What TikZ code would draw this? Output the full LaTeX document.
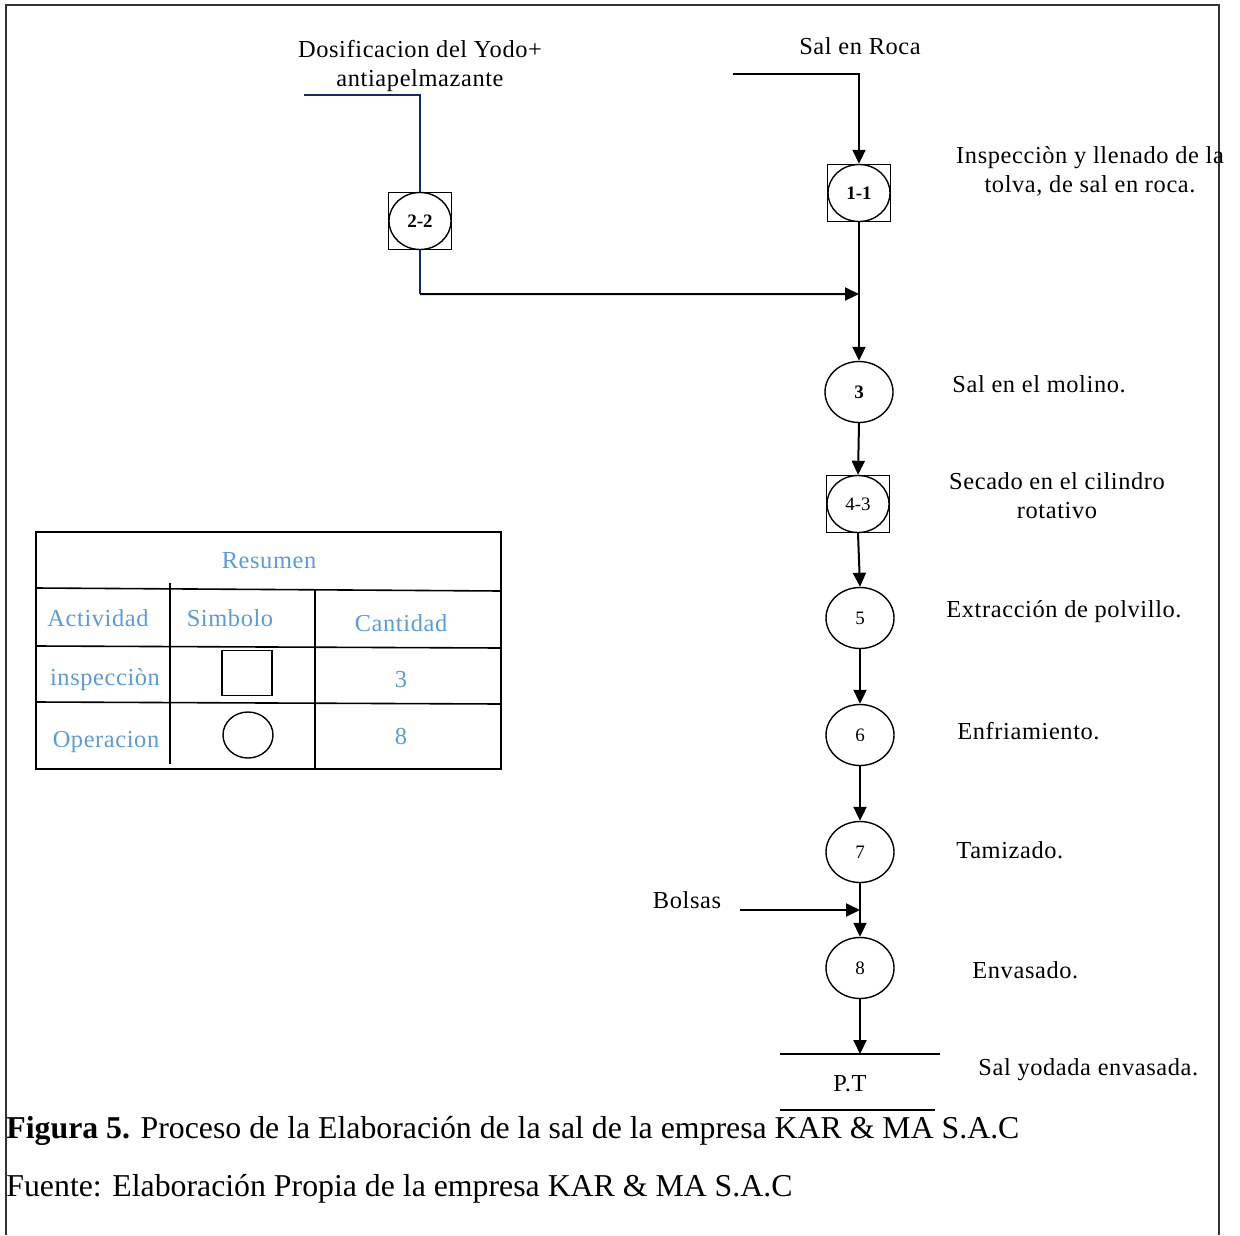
\documentclass[tikz,border=0pt]{standalone}
\usepackage{fontspec}
\setmainfont{Liberation Serif}
\newfontfamily\spacedserif[LetterSpace=2.5]{Liberation Serif}
\usetikzlibrary{arrows.meta,shapes.geometric}
\definecolor{tblue}{RGB}{91,155,213}
\definecolor{navyline}{RGB}{20,40,110}
\begin{document}
\begin{tikzpicture}[x=0.5pt,y=-0.5pt,
  lw/.style={line width=1pt},
  flow/.style={lw,-{Triangle[length=7pt,width=6.5pt]}},
  opnode/.style={draw,ellipse,line width=0.7pt,minimum width=34pt,minimum height=30.5pt,inner sep=0pt,font=\fontsize{9.5}{11}\selectfont},
  inspbox/.style={draw,rectangle,line width=0.7pt,minimum width=31.5pt,minimum height=28.5pt,inner sep=0pt},
  inspop/.style={opnode,minimum width=31pt,minimum height=28.5pt},
  boldlbl/.style={font=\fontsize{9.5}{11}\selectfont\bfseries},
  txt/.style={font=\spacedserif\fontsize{12.2}{14.5}\selectfont,inner sep=0pt,align=center},
  tbl/.style={txt,text=tblue},
  caption/.style={font=\fontsize{15.9}{18}\selectfont,inner sep=0pt,anchor=west}]
\useasboundingbox (0,0) rectangle (1240,1235);
% outer frame
\draw[line width=1pt,black!80] (6,1235) -- (6,5) -- (1219,5) -- (1219,1235);

% inputs
\node[txt] (tYodo) at (420,66) {Dosificacion del Yodo+\\antiapelmazante};
\node[txt] (tRoca) at (860,46) {Sal en Roca};
\coordinate (inYodo) at (304,95);
\coordinate (inRoca) at (733,74);

% inspection + operation 1-1 and 2-2
\node[inspbox] (s11) at (859,193) {};
\node[inspop,boldlbl] (n11) at (859,193) {1-1};
\node[inspbox] (s22) at (420,221) {};
\node[inspop,boldlbl] (n22) at (420,221) {2-2};

% main sequence
\node[opnode,boldlbl] (n3) at (859,392) {3};
\node[inspbox] (s43) at (858,504) {};
\node[inspop] (n43) at (858,504) {4-3};
\node[opnode] (n5) at (860,618) {5};
\node[opnode] (n6) at (860,735) {6};
\node[opnode] (n7) at (860,852) {7};
\node[opnode] (n8) at (860,968) {8};

\coordinate (j1) at (859,294);
\coordinate (j2) at (860,910);
\coordinate (inBolsas) at (740,910);
\node[txt] (tBolsas) at (687,900) {Bolsas};

% finished product
\coordinate (ptTop) at (860,1054);
\coordinate (ptL) at (780,1054);
\coordinate (ptR) at (940,1054);
\coordinate (ptBL) at (780,1110);
\coordinate (ptBR) at (935,1110);
\node[txt] (tPT) at (850,1084) {P.T};

% connectors
\draw[flow] (inRoca) -| (s11.north);
\draw[lw,navyline] (inYodo) -| (s22.north);
\draw[lw,navyline] (s22.south) -- ++(0,44) coordinate (k22);
\draw[flow] (k22) -- (j1);
\draw[flow] (s11.south) -- (n3.north);
\draw[flow] (n3.south) -- (s43.north);
\draw[flow] (s43.south) -- (n5.north);
\draw[flow] (n5.south) -- (n6.north);
\draw[flow] (n6.south) -- (n7.north);
\draw[flow] (n7.south) -- (n8.north);
\draw[flow] (inBolsas) -- (j2);
\draw[flow] (n8.south) -- (ptTop);
\draw[lw] (ptL) -- (ptR);
\draw[lw] (ptBL) -- (ptBR);

% step descriptions
\node[txt] (d1) at (1090,171) {Inspecciòn y llenado de la\\tolva, de sal en roca.};
\node[txt,anchor=west] (d3) at (952,384) {Sal en el molino.};
\node[txt] (d4) at (1057,496) {Secado en el cilindro\\rotativo};
\node[txt,anchor=west] (d5) at (946,612) {Extracción de polvillo.};
\node[txt,anchor=west] (d6) at (957,731) {Enfriamiento.};
\node[txt,anchor=west] (d7) at (956,850) {Tamizado.};
\node[txt,anchor=west] (d8) at (972,970) {Envasado.};
\node[txt,anchor=west] (d9) at (978,1070) {Sal yodada envasada.};

% summary table
\draw[line width=0.8pt] (36,532) rectangle (501,769);
\draw[line width=0.8pt] (36,588) -- (501,591);
\draw[line width=0.8pt] (36,646) -- (501,648);
\draw[line width=0.8pt] (36,702) -- (501,704);
\draw[line width=0.8pt] (170,583) -- (170,764);
\draw[line width=0.8pt] (315,589) -- (315,769);
\node[tbl] (hRes) at (269,561) {Resumen};
\node[tbl] (hAct) at (98,618) {Actividad};
\node[tbl] (hSim) at (230,618) {Simbolo};
\node[tbl] (hCan) at (401,623) {Cantidad};
\node[tbl] (rIns) at (105,680) {inspecciòn};
\node[tbl] (rOpe) at (106,742) {Operacion};
\node[tbl] (cIns) at (401,680) {3};
\node[tbl] (cOpe) at (401,736) {8};
\node[draw,rectangle,line width=0.7pt,minimum width=25pt,minimum height=22.5pt] (symIns) at (247,673) {};
\node[draw,ellipse,line width=0.7pt,minimum width=25pt,minimum height=23pt,inner sep=0pt] (symOpe) at (248,735) {};

% caption
\node[caption] (cap1) at (6,1131) {\textbf{Figura 5.} Proceso de la Elaboración de la sal de la empresa KAR \& MA S.A.C};
\node[caption] (cap2) at (6,1189) {Fuente: Elaboración Propia de la empresa KAR \& MA S.A.C};
\end{tikzpicture}
\end{document}
